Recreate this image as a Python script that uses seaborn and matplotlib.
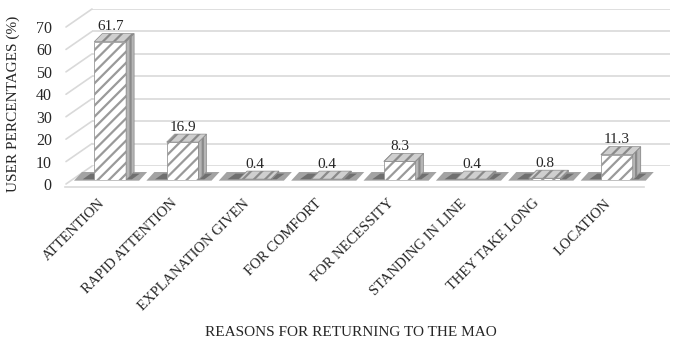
import matplotlib
matplotlib.use('Agg')
import matplotlib.pyplot as plt
import matplotlib.transforms as mtransforms
from matplotlib.patches import Polygon
import pandas as pd
import seaborn as sns

reasons = ['ATTENTION', 'RAPID ATTENTION', 'EXPLANATION GIVEN', 'FOR COMFORT',
           'FOR NECESSITY', 'STANDING IN LINE', 'THEY TAKE LONG', 'LOCATION']
percentages = [61.7, 16.9, 0.4, 0.4, 8.3, 0.4, 0.8, 11.3]
y_ticks = [0, 10, 20, 30, 40, 50, 60, 70]

df = pd.DataFrame({'reason': reasons, 'pct': percentages})

sns.set_style('white')
plt.rcParams['font.family'] = ['Liberation Serif', 'DejaVu Serif']
plt.rcParams['hatch.linewidth'] = 1.6
plt.rcParams['hatch.color'] = '#8c8c8c'

W, H = 677, 350
fig = plt.figure(figsize=(W / 100, H / 100), dpi=100)

# back wall with gridlines (shifted up/right to fake the 3D depth)
gx0, gx1, gy0, gy1 = 92, 670, 166, 9
grid_ax = fig.add_axes([gx0 / W, 1 - gy0 / H, (gx1 - gx0) / W, (gy0 - gy1) / H])
grid_ax.set_ylim(0, 70)
grid_ax.set_xlim(0, 1)
for v in y_ticks:
    grid_ax.axhline(v, color='#d9d9d9', lw=1.2)
d = 18 / (gy0 - gy1) * 70
a = 26 / (gx1 - gx0)
blend = mtransforms.blended_transform_factory(grid_ax.transAxes, grid_ax.transData)
for v in y_ticks:
    grid_ax.plot([-a, 0], [v - d, v], color='#d9d9d9', lw=1.2,
                 transform=blend, clip_on=False)
grid_ax.axis('off')

# main bars
x0, x1, y0, y1 = 74, 653, 180, 23
ax = fig.add_axes([x0 / W, 1 - y0 / H, (x1 - x0) / W, (y0 - y1) / H])
ax.patch.set_alpha(0)
sns.barplot(data=df, x='reason', y='pct', color='white', width=0.44,
            edgecolor='#9a9a9a', linewidth=0.6, hatch='///', ax=ax, zorder=3)
ax.set_ylim(0, 70)
ax.set_xlim(-0.5, len(reasons) - 0.5)

# depth of the fake 3D boxes, in data units
step = (x1 - x0) / len(reasons)
dx = 8 / step
dy = 8 / (y0 - y1) * 70
for bar in ax.patches[:len(reasons)]:
    xl = bar.get_x()
    xr = xl + bar.get_width()
    h = bar.get_height()
    xc = (xl + xr) / 2
    # floor shadow
    ax.add_patch(Polygon([(xc - 0.5, -0.3), (xc + 0.4, -0.3), (xc + 0.4 + dx, dy),
                          (xc - 0.5 + dx, dy)], closed=True, facecolor='#a3a3a3',
                         edgecolor='none', zorder=1, clip_on=False))
    ax.add_patch(Polygon([(xc - 0.38, 0.3), (xc + 0.3, 0.3), (xc + 0.3 + dx, dy * 0.8),
                          (xc - 0.38 + dx, dy * 0.8)], closed=True, facecolor='#6f6f6f',
                         edgecolor='none', zorder=2, clip_on=False))
    # side face
    ax.add_patch(Polygon([(xr, 0), (xr + dx, dy), (xr + dx, h + dy), (xr, h)],
                         closed=True, facecolor='#b5b5b5', edgecolor='#8a8a8a',
                         lw=0.5, hatch='|||', zorder=3))
    # top cap
    ax.add_patch(Polygon([(xl, h), (xr, h), (xr + dx, h + dy), (xl + dx, h + dy)],
                         closed=True, facecolor='#cfcfcf', edgecolor='#8a8a8a',
                         lw=0.5, hatch='///', zorder=3))

ax.bar_label(ax.containers[0], labels=[f'{v:.1f}' for v in percentages],
             padding=6, fontsize=11)

ax.set_yticks(y_ticks)
ax.tick_params(axis='y', length=0, pad=16, labelsize=11.5)
down_shift = mtransforms.ScaledTranslation(0, -4 / 100, fig.dpi_scale_trans)
for lab in ax.get_yticklabels():
    lab.set_transform(lab.get_transform() + down_shift)
ax.set_xticks([])
ax.set_xlabel('')
ax.set_ylabel('')
for s in ['top', 'right', 'left']:
    ax.spines[s].set_visible(False)
ax.spines['bottom'].set_position(('outward', 5))
ax.spines['bottom'].set_color('#d9d9d9')
ax.spines['bottom'].set_linewidth(1.2)
ax.spines['bottom'].set_bounds(-0.62, 7.38)

# category labels on an overlay axis, nudged left of the bar centres
lab_ax = fig.add_axes(ax.get_position())
lab_ax.patch.set_alpha(0)
shift = 12 / step
lab_ax.set_xlim(-0.5 + shift, len(reasons) - 0.5 + shift)
lab_ax.set_xticks(range(len(reasons)))
lab_ax.set_xticklabels(reasons, rotation=45, ha='right', rotation_mode='anchor',
                       fontsize=10.5)
lab_ax.tick_params(axis='x', length=0, pad=12)
lab_ax.set_yticks([])
for s in lab_ax.spines.values():
    s.set_visible(False)

fig.text(13 / W, 1 - 104 / H, 'USER PERCENTAGES (%)', rotation=90,
         ha='center', va='center', fontsize=11)
fig.text(351 / W, 1 - 332 / H, 'REASONS FOR RETURNING TO THE MAO',
         ha='center', va='center', fontsize=11)

fig.savefig('out.png', dpi=100)
plt.close(fig)
